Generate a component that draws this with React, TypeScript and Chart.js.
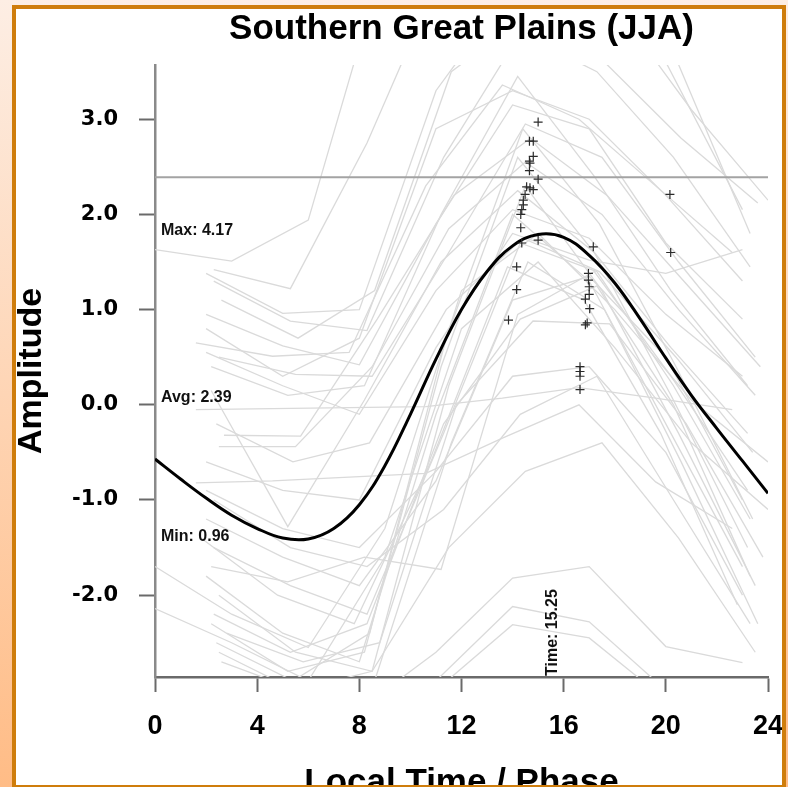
import React, { useEffect, useRef } from "react";
import { Chart, registerables } from "chart.js";

Chart.register(...registerables);

const TITLE = "Southern Great Plains (JJA)";
const X_TITLE = "Local Time / Phase";
const Y_TITLE = "Amplitude";

const X_TICKS = [0, 4, 8, 12, 16, 20, 24];
const Y_TICKS = [-2, -1, 0, 1, 2, 3];
const X_MIN = 0;
const X_MAX = 24;
const Y_MIN = -2.86;
const Y_MAX = 3.57;

// fitted diurnal curve (black), read hourly
const FIT_HOURS = [0, 1, 2, 3, 4, 5, 6, 7, 8, 9, 10, 11, 12, 13, 14, 15, 16, 17, 18, 19, 20, 21, 22, 23, 24];
const FIT_VALUES = [-0.57, -0.78, -0.98, -1.16, -1.3, -1.4, -1.41, -1.3, -1.05, -0.64, -0.1, 0.48, 1.0, 1.4, 1.67, 1.79, 1.76, 1.57, 1.28, 0.9, 0.49, 0.1, -0.25, -0.59, -0.93];

const STAT_MAX = 4.17;
const STAT_AVG = 2.39;
const STAT_MIN = 0.96;
const PEAK_TIME = 15.25;

// individual 3-hourly diurnal cycles (grey)
const SAMPLE_STEP = 3;
const GRAY_START = [
  0, 2.3, 2.0, 2.3, 1.6, 2.0, 2.5, 2.6, 2.0, 2.2,
  1.6, 1.6, 2.7, 2.5, 2.2, 2.0, 2.0, 2.4,
  0, 0, 2.2, 2.0, 2.0, 2.0, 2.3, 2.0, 2.5, 2.2, 2.4, 1.8, 2.6, 2.0, 2.3, 2.8, 2.0, 2.3, 2.5,
];
const GRAY_VALUES = [
  [1.63, 1.51, 1.94, 4.7, 5.4, 5.0, 4.2, 3.1, 2.15],
  [1.42, 1.22, 2.75, 4.6, 5.1, 4.6, 3.7, 1.8],
  [1.38, 0.96, 1.0, 3.3, 4.4, 4.1, 3.6, 2.05],
  [1.3, 0.88, 0.78, 2.6, 3.9, 3.5, 2.6, 1.45],
  [0.65, 0.51, 0.55, 2.3, 3.36, 3.0, 2.3, 1.6],
  [0.95, 0.62, 0.42, 1.9, 3.15, 2.9, 1.7, 0.9],
  [0.5, 0.32, 0.3, 1.6, 2.95, 2.6, 1.5, 0.5],
  [1.1, 0.7, 1.2, 3.5, 4.1, 3.6, 2.8, 2.12],
  [0.8, 0.3, 0.7, 2.9, 3.3, 3.0, 2.2, 1.3],
  [0.4, 0.1, 0.2, 2.0, 3.45, 2.4, 1.2, 0.2],
  [-0.05, -0.04, -0.03, -0.02, 0.07, 0.18, 0.07, -0.05],
  [-0.82, -0.8, -0.76, -0.72, -0.35, 0.0, -0.81, -1.3],
  [-0.32, -0.33, 0.9, 2.2, 2.8, 2.2, 1.3, 0.4],
  [-0.44, -0.44, 0.4, 1.85, 2.55, 2.0, 1.0, 0.1],
  [0.15, -1.28, 0.05, 1.5, 2.25, 1.6, 0.6, -0.3],
  [0.55, 0.2, -0.1, 1.2, 2.05, 1.75, 0.95, 0.3],
  [-0.6, -0.9, -1.0, 0.6, 1.8, 1.52, 1.38, 1.63],
  [-0.2, -0.6, -0.4, 1.0, 1.75, 1.4, 0.5, -0.5],
  [-1.7, -2.2, -2.55, -1.3, 1.2, 1.8, 1.0, 0.05, -0.6],
  [-2.14, -2.5, -2.9, -1.6, 0.8, 1.5, 0.6, -0.4, -1.1],
  [-1.7, -1.86, -1.6, -1.73, 0.95, 1.4, 0.3, -0.9],
  [-3.0, -3.3, -3.2, -2.6, -1.82, -1.7, -2.54, -2.71],
  [-3.0, -3.4, -3.3, -2.9, -2.12, -2.28, -3.0, -3.3],
  [-3.1, -3.5, -3.4, -3.0, -2.31, -2.45, -3.1, -3.4],
  [-1.5, -1.9, -2.2, -0.3, 1.7, 1.4, 0.2, -1.2],
  [-1.8, -2.4, -2.7, -0.1, 2.0, 1.3, -0.2, -1.7],
  [-2.0, -2.6, -2.8, 0.2, 2.3, 1.2, -0.3, -1.9],
  [-2.3, -2.8, -2.6, 0.4, 2.6, 1.6, 0.1, -1.5],
  [-2.5, -2.9, -2.4, 0.7, 2.9, 1.9, 0.4, -1.2],
  [-1.4, -2.0, -2.3, -0.6, 1.45, 1.1, -0.3, -2.1],
  [-2.7, -3.0, -2.9, -0.4, 1.5, 1.0, -0.6, -2.3],
  [-1.2, -1.6, -1.9, -0.8, 1.1, 1.35, 0.5, -1.0],
  [-2.2, -2.6, -2.3, -0.2, 0.9, 1.25, 0.0, -1.8],
  [-2.4, -2.7, -2.5, 0.0, 0.88, 0.85, -0.2, -1.6],
  [-0.9, -1.3, -1.5, -0.7, 0.3, 0.4, -0.5, -2.0],
  [-1.0, -1.5, -1.7, -1.1, -0.1, 0.3, -1.0, -2.3],
  [-2.6, -3.0, -2.8, -1.5, -0.7, -0.4, -1.4, -2.6],
];

// peak phase / amplitude markers (+)
const MARK_X = [
  15.0, 14.66, 14.81, 14.81, 14.66, 14.68, 14.66, 15.0, 14.55, 14.68, 14.81, 14.49, 14.42,
  14.42, 14.36, 14.32, 14.32, 14.36, 15.0, 14.16, 14.16, 13.84, 17.16, 16.97, 16.97, 17.0,
  17.0, 16.85, 17.02, 16.92, 16.85, 16.64, 16.64, 16.64, 16.64, 20.16, 20.19,
];
const MARK_Y = [
  2.97, 2.77, 2.77, 2.61, 2.56, 2.54, 2.46, 2.37, 2.29, 2.28, 2.26, 2.21, 2.15,
  2.1, 2.05, 2.0, 1.86, 1.7, 1.73, 1.45, 1.21, 0.89, 1.66, 1.38, 1.31, 1.24,
  1.16, 1.11, 1.01, 0.86, 0.84, 0.4, 0.35, 0.3, 0.16, 2.21, 1.6,
];

const SANS = '"Liberation Sans", Arial, Helvetica, sans-serif';
const DEJAVU = '"DejaVu Sans", Verdana, sans-serif';

const framePlugin = {
  id: "frame",
  beforeDraw(chart: any) {
    const { ctx, width, height } = chart;
    ctx.save();
    const g = ctx.createLinearGradient(0, 0, 0, height);
    g.addColorStop(0, "#fdeee4");
    g.addColorStop(1, "#ffbc86");
    ctx.fillStyle = g;
    ctx.fillRect(0, 0, width, height);
    ctx.fillStyle = "#ffffff";
    ctx.fillRect(14, 7, 770, 790);
    ctx.restore();
  },
  afterDraw(chart: any) {
    const { ctx, chartArea: a, scales } = chart;
    ctx.save();
    ctx.fillStyle = "#111";
    ctx.font = `bold 16px ${SANS}`;
    ctx.textAlign = "left";
    ctx.textBaseline = "alphabetic";
    ctx.fillText(`Max: ${STAT_MAX.toFixed(2)}`, a.left + 6, a.top + 170);
    ctx.fillText(`Avg: ${STAT_AVG.toFixed(2)}`, a.left + 6, a.top + 337);
    ctx.fillText(`Min: ${STAT_MIN.toFixed(2)}`, a.left + 6, a.top + 476);
    const tx = scales.x.getPixelForValue(PEAK_TIME);
    ctx.translate(tx, a.bottom - 1);
    ctx.rotate(-Math.PI / 2);
    ctx.textBaseline = "top";
    ctx.fillText(`Time: ${PEAK_TIME.toFixed(2)}`, 0, 0);
    ctx.restore();

    ctx.save();
    ctx.strokeStyle = "#cf7d0c";
    ctx.lineWidth = 4;
    ctx.strokeRect(14, 7, 770, 780);
    ctx.restore();
  },
};

export default function App() {
  const ref = useRef<HTMLCanvasElement | null>(null);

  useEffect(() => {
    if (!ref.current) return;

    const grayDatasets = GRAY_VALUES.map((vals, i) => ({
      type: "line" as const,
      data: vals.map((v, k) => ({ x: GRAY_START[i] + SAMPLE_STEP * k, y: v })),
      borderColor: "#dadada",
      borderWidth: 1.3,
      pointRadius: 0,
      tension: 0,
      clip: 0,
    }));

    const chart = new Chart(ref.current, {
      type: "line",
      data: {
        datasets: [
          {
            data: MARK_X.map((x, i) => ({ x, y: MARK_Y[i] })),
            showLine: false,
            pointStyle: "cross",
            pointRadius: 4.5,
            pointBorderWidth: 1.2,
            pointBorderColor: "#2a2a2a",
            pointBackgroundColor: "#2a2a2a",
          },
          {
            data: FIT_HOURS.map((x, i) => ({ x, y: FIT_VALUES[i] })),
            borderColor: "#000000",
            borderWidth: 3,
            pointRadius: 0,
            tension: 0.4,
          },
          {
            data: [
              { x: X_MIN, y: STAT_AVG },
              { x: X_MAX, y: STAT_AVG },
            ],
            borderColor: "#a3a3a3",
            borderWidth: 2,
            pointRadius: 0,
          },
          ...grayDatasets,
        ] as any,
      },
      options: {
        animation: false,
        responsive: false,
        events: [],
        layout: { padding: { left: 0, right: 20, top: 0, bottom: 0 } },
        plugins: {
          legend: { display: false },
          tooltip: { enabled: false },
          title: {
            display: true,
            fullSize: false,
            text: TITLE,
            color: "#000",
            font: { family: SANS, size: 35, weight: "bold" },
            padding: { top: 8.5, bottom: 14.5 },
          },
        },
        scales: {
          x: {
            type: "linear",
            min: X_MIN,
            max: X_MAX,
            afterBuildTicks: (s: any) => {
              s.ticks = X_TICKS.map((v) => ({ value: v }));
            },
            afterFit: (s: any) => {
              s.height = 110;
              s.paddingLeft = 0;
              s.paddingRight = 0;
            },
            ticks: {
              color: "#000",
              font: { family: SANS, size: 27, weight: "bold" },
              padding: 18,
              maxRotation: 0,
              autoSkip: false,
            },
            grid: {
              drawOnChartArea: false,
              drawTicks: true,
              tickLength: 15,
              tickColor: "#6a6a6a",
              tickWidth: 2,
            },
            border: { display: true, color: "#6a6a6a", width: 2.5 },
            title: {
              display: true,
              text: X_TITLE,
              color: "#000",
              font: { family: SANS, size: 35, weight: "bold" },
              padding: { top: 0, bottom: -17 },
            },
          },
          y: {
            type: "linear",
            min: Y_MIN,
            max: Y_MAX,
            afterBuildTicks: (s: any) => {
              s.ticks = Y_TICKS.map((v) => ({ value: v }));
            },
            afterFit: (s: any) => {
              s.width = 155;
              s.paddingTop = 0;
              s.paddingBottom = 0;
            },
            ticks: {
              color: "#000",
              font: { family: DEJAVU, size: 21, weight: "bold" },
              padding: 21,
              callback: (v: any) => Number(v).toFixed(1),
            },
            grid: {
              drawOnChartArea: false,
              drawTicks: true,
              tickLength: 16,
              tickColor: "#6a6a6a",
              tickWidth: 2,
            },
            border: { display: true, color: "#8a8a8a", width: 2.5 },
            title: {
              display: true,
              text: Y_TITLE,
              color: "#000",
              font: { family: SANS, size: 34, weight: "bold" },
              padding: { top: 11.5, bottom: 0 },
            },
          },
        },
      } as any,
      plugins: [framePlugin],
    });

    return () => chart.destroy();
  }, []);

  return (
    <div style={{ position: "absolute", left: 0, top: 0, width: 788, height: 787 }}>
      <canvas ref={ref} width={788} height={787} style={{ display: "block" }} />
    </div>
  );
}
